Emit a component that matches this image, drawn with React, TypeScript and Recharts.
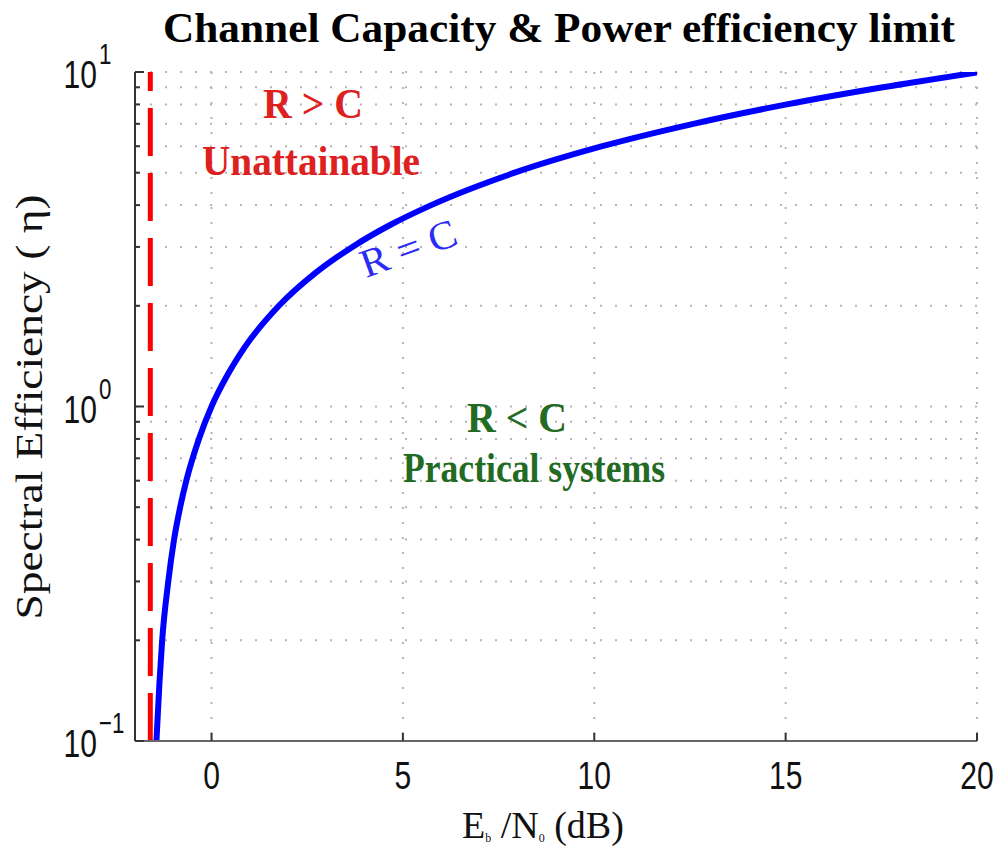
import React from 'react';
import { LineChart, Line, XAxis, YAxis, CartesianGrid, ReferenceLine } from 'recharts';

// Spectral efficiency (bit/s/Hz) vs Eb/N0 (dB) read along the R = C curve
const etaValues = [0.1, 0.15, 0.2, 0.3, 0.4, 0.5, 0.6, 0.8, 1, 1.25, 1.5, 2, 2.5, 3, 3.5, 4, 5, 6, 7, 8, 9, 9.97];
const ebnoDb = [-1.44, -1.36, -1.29, -1.13, -0.98, -0.82, -0.66, -0.33, 0, 0.43, 0.86, 1.76, 2.7, 3.68, 4.69, 5.74, 7.92, 10.21, 12.59, 15.03, 17.54, 20];
const shannonLimitDb = -1.6;
const xTicks = [0, 5, 10, 15, 20];
const yTicks = [0.1, 0.2, 0.3, 0.4, 0.5, 0.6, 0.7, 0.8, 0.9, 1, 2, 3, 4, 5, 6, 7, 8, 9, 10];
const yMajorTicks = [0.1, 1, 10];
const yMajorExponents = ['\u22121', '0', '1'];

const data = ebnoDb.map((x, i) => ({ x, eta: etaValues[i] }));

const SANS = '"Liberation Sans", Arial, sans-serif';
const SERIF = '"Liberation Serif", "Times New Roman", serif';

const XTick = (props: any) => {
  const { x, y, payload } = props;
  return (
    <g>
      <line x1={x} x2={x} y1={y} y2={y - 8} stroke="#333" strokeWidth={2} />
      <g transform={`translate(${x},${y + 48}) scale(0.77,1)`}>
        <text textAnchor="middle" fontSize={39} fontFamily={SANS} fill="#111">
          {payload.value}
        </text>
      </g>
    </g>
  );
};

const YTick = (props: any) => {
  const { x, y, payload } = props;
  const idx = yMajorTicks.indexOf(payload.value);
  const major = idx >= 0;
  return (
    <g>
      <line x1={x} x2={x + (major ? 9 : 5)} y1={y} y2={y} stroke="#333" strokeWidth={2} />
      {major && (
        <g>
          <g transform={`translate(${x - 38},${y + 16}) scale(0.77,1)`}>
            <text textAnchor="end" fontSize={39} fontFamily={SANS} fill="#111">10</text>
          </g>
          <g transform={`translate(${x - 36},${y - 8}) scale(0.77,1)`}>
            <text textAnchor="start" fontSize={29} fontFamily={SANS} fill="#111">
              {yMajorExponents[idx]}
            </text>
          </g>
        </g>
      )}
    </g>
  );
};

export default function App() {
  return (
    <div style={{ position: 'absolute', left: 0, top: 0, width: 1000, height: 850, background: '#fff' }}>
      <LineChart
        width={1000}
        height={850}
        data={data}
        margin={{ top: 72, right: 23, bottom: 49, left: 0 }}
      >
        <CartesianGrid stroke="#b5b5b5" strokeWidth={2} strokeDasharray="2 13" />
        <XAxis
          type="number"
          dataKey="x"
          domain={[-2, 20]}
          ticks={xTicks}
          allowDataOverflow
          height={60}
          tickSize={0}
          tickMargin={0}
          tickLine={false}
          tick={<XTick />}
          axisLine={{ stroke: '#666', strokeWidth: 2 }}
        />
        <YAxis
          type="number"
          scale="log"
          domain={[0.1, 10]}
          ticks={yTicks}
          allowDataOverflow
          width={135}
          tickSize={0}
          tickMargin={0}
          tickLine={false}
          tick={<YTick />}
          axisLine={{ stroke: '#333', strokeWidth: 2 }}
          interval={0}
        />
        <ReferenceLine
          x={shannonLimitDb}
          stroke="#ff0000"
          strokeWidth={5}
          strokeDasharray="48 17"
          ifOverflow="visible"
        />
        <Line
          type="monotone"
          dataKey="eta"
          stroke="#0000ff"
          strokeWidth={6}
          dot={false}
          isAnimationActive={false}
        />
      </LineChart>
      <svg
        width={1000}
        height={850}
        style={{ position: 'absolute', left: 0, top: 0, pointerEvents: 'none' }}
      >
        <text x={163} y={42} fontSize={42} fontWeight="bold" fontFamily={SERIF} fill="#000" textLength={792} lengthAdjust="spacingAndGlyphs">
          Channel Capacity &amp; Power efficiency limit
        </text>
        <text x={263} y={118} fontSize={42} fontWeight="bold" fontFamily={SERIF} fill="#dd2020" textLength={100} lengthAdjust="spacingAndGlyphs">
          R &gt; C
        </text>
        <text x={202} y={175} fontSize={42} fontWeight="bold" fontFamily={SERIF} fill="#dd2020" textLength={218} lengthAdjust="spacingAndGlyphs">
          Unattainable
        </text>
        <text x={366} y={278} transform="rotate(-20 366 278)" fontSize={40} fontFamily={SERIF} fill="#2b2bf5" textLength={100} lengthAdjust="spacingAndGlyphs">
          R = C
        </text>
        <text x={467} y={432} fontSize={42} fontWeight="bold" fontFamily={SERIF} fill="#236b23" textLength={100} lengthAdjust="spacingAndGlyphs">
          R &lt; C
        </text>
        <text x={403} y={482} fontSize={42} fontWeight="bold" fontFamily={SERIF} fill="#236b23" textLength={262} lengthAdjust="spacingAndGlyphs">
          Practical systems
        </text>
        <text x={462} y={838} fontSize={38} fontFamily={SERIF} fill="#111">
          E<tspan fontSize={12} dy={4}>b</tspan>
          <tspan dy={-4}> /N</tspan>
          <tspan fontSize={12} dy={4}>0</tspan>
          <tspan dy={-4}> (dB)</tspan>
        </text>
        <text transform="translate(42,407) rotate(-90)" textAnchor="middle" fontSize={38} fontFamily={SERIF} fill="#111" textLength={425} lengthAdjust="spacingAndGlyphs">
          Spectral Efficiency ( η)
        </text>
      </svg>
    </div>
  );
}
